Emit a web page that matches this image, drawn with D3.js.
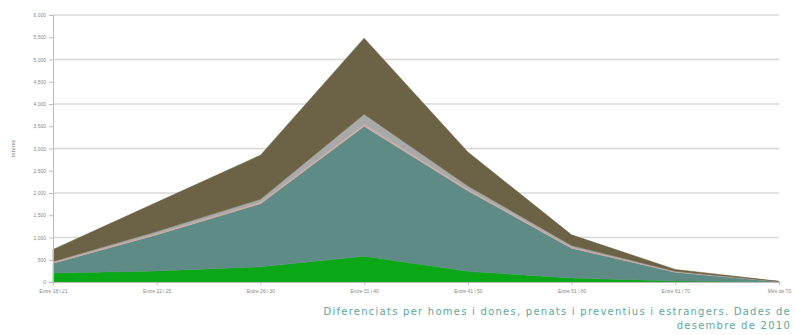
<!DOCTYPE html>
<html>
<head>
<meta charset="utf-8">
<script src="https://cdn.jsdelivr.net/npm/d3@7"></script>
<style>
  body { margin: 0; background: #fff; }
  svg { font-family: "DejaVu Sans", sans-serif; }
</style>
</head>
<body>
<div id="chart"></div>
<script>
// age groups on the x axis
var ages = ['Entre 18 i 21', 'Entre 22 i 25', 'Entre 26 i 30', 'Entre 31 i 40',
            'Entre 41 i 50', 'Entre 51 i 60', 'Entre 61 i 70', 'Més de 70'];

// series, bottom to top of the stack
var dones      = [200, 250, 340, 580, 240, 90, 25, 2];
var homesPenats = [220, 810, 1420, 2920, 1810, 670, 195, 6];
var preventius = [20, 25, 30, 40, 30, 20, 8, 1];
var altres     = [20, 50, 70, 230, 80, 40, 15, 1];
var estrangers = [270, 655, 990, 1710, 760, 240, 40, 5];

var keys = ['Dones', 'Homes penats', 'Preventius', 'Altres', 'Estrangers'];
var colors = ['#0aa817', '#5e8b85', '#d9aa9e', '#a9a9a9', '#6c6346'];
var yTicks = d3.range(0, 6001, 500);

var rows = ages.map(function(a, i) {
  return { age: a, 'Dones': dones[i], 'Homes penats': homesPenats[i],
           'Preventius': preventius[i], 'Altres': altres[i], 'Estrangers': estrangers[i] };
});

var W = 795, H = 335;
var margin = {top: 15, right: 16, bottom: 53, left: 53},
    width = W - margin.left - margin.right,
    height = H - margin.top - margin.bottom;

var svg = d3.select('#chart').append('svg')
  .attr('width', W)
  .attr('height', H);

var g = svg.append('g')
  .attr('transform', 'translate(' + margin.left + ',' + margin.top + ')');

var x = d3.scalePoint().domain(ages).range([0, width]),
    y = d3.scaleLinear().domain([0, 6000]).range([height, 0]);

// grid lines every 1000
g.selectAll('.grid')
  .data(d3.range(1000, 6001, 1000))
  .enter().append('line')
  .attr('x1', 0).attr('x2', width)
  .attr('y1', function(d) { return y(d); })
  .attr('y2', function(d) { return y(d); })
  .attr('stroke', '#d8d8d8')
  .attr('stroke-width', 1.5);

var layers = d3.stack().keys(keys)(rows);

var area = d3.area()
  .x(function(d) { return x(d.data.age); })
  .y0(function(d) { return y(d[0]); })
  .y1(function(d) { return y(d[1]); });

g.selectAll('.layer')
  .data(layers)
  .enter().append('path')
  .attr('class', 'layer')
  .attr('d', area)
  .attr('fill', function(d, i) { return colors[i]; })
  .attr('stroke', function(d, i) { return colors[i]; })
  .attr('stroke-width', 0.5)
  .attr('stroke-linejoin', 'round');

// axes
var yAxis = g.append('g')
  .call(d3.axisLeft(y).tickValues(yTicks).tickSize(4).tickFormat(d3.format(',')));
var xAxis = g.append('g')
  .attr('transform', 'translate(0,' + height + ')')
  .call(d3.axisBottom(x).tickSize(3));

[yAxis, xAxis].forEach(function(ax) {
  ax.select('.domain').attr('stroke', '#bbb');
  ax.selectAll('.tick line').attr('stroke', '#bbb');
  ax.selectAll('text').attr('fill', '#888').style('font-size', '5px');
});
yAxis.selectAll('text').attr('x', -7);
xAxis.selectAll('text').attr('y', 7);

svg.append('text')
  .attr('transform', 'translate(15,' + (margin.top + height / 2) + ') rotate(-90)')
  .attr('text-anchor', 'middle')
  .attr('fill', '#777')
  .style('font-size', '5px')
  .text('Interns');

// caption
var cap = svg.append('text')
  .attr('text-anchor', 'end')
  .attr('fill', '#5ea79c')
  .style('font-size', '10px')
  .style('letter-spacing', '1.25px');
cap.append('tspan').attr('x', 791).attr('y', 315)
  .text('Diferenciats per homes i dones, penats i preventius i estrangers. Dades de');
cap.append('tspan').attr('x', 791).attr('y', 329)
  .text('desembre de 2010');
</script>
</body>
</html>
